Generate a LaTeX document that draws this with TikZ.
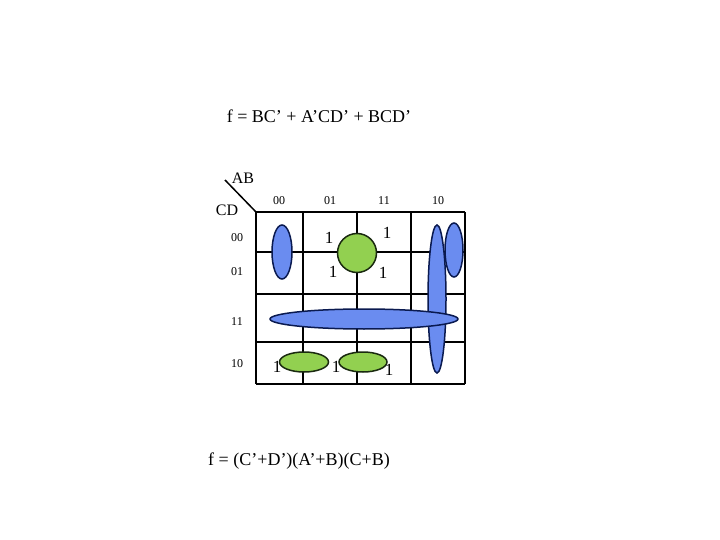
\documentclass[tikz,border=0pt]{standalone}
\usepackage{fontspec}
\setmainfont{Liberation Serif}
\definecolor{bluefill}{HTML}{6A8CF0}
\definecolor{blueedge}{HTML}{0A1A50}
\definecolor{greenfill}{HTML}{92D050}
\definecolor{greenedge}{HTML}{1A2A10}
\begin{document}
\begin{tikzpicture}[x=1pt,y=-1pt,
  gridline/.style={line width=2pt,black},
  bluegrp/.style={fill=bluefill,draw=blueedge,line width=1.5pt},
  greengrp/.style={fill=greenfill,draw=greenedge,line width=1.5pt},
  formula/.style={font=\fontsize{18}{21}\selectfont,inner sep=0pt},
  axislbl/.style={font=\fontsize{16}{18}\selectfont,inner sep=0pt},
  codelbl/.style={font=\fontsize{12}{14}\selectfont,inner sep=0pt},
  onelbl/.style={font=\fontsize{17}{19}\selectfont,inner sep=0pt}]
\useasboundingbox (0,0) rectangle (720,540);
% formulas
\node[formula] (top) at (319,116) {f = BC’ + A’CD’ + BCD’};
\node[formula] (bot) at (299,461) {f = (C’+D’)(A’+B)(C+B)};
% grid
\foreach \x in {256,303,357,411,465} \draw[gridline] (\x,212) -- (\x,384);
\foreach \y in {212,252,294,342,384} \draw[gridline] (256,\y) -- (465,\y);
\draw[line width=1.5pt] (225,180) -- (256,212);
\node[axislbl] (ab) at (243,178) {AB};
\node[axislbl] (cd) at (227,210) {CD};
% column labels
\node[codelbl] (c00) at (279,201) {00};
\node[codelbl] (c01) at (330,201) {01};
\node[codelbl] (c11) at (384,201) {11};
\node[codelbl] (c10) at (438,201) {10};
% row labels
\node[codelbl] (r00) at (237,238) {00};
\node[codelbl] (r01) at (237,272) {01};
\node[codelbl] (r11) at (237,322) {11};
\node[codelbl] (r10) at (237,364) {10};
% blue groups
\draw[bluegrp] (282,252) ellipse [x radius=10, y radius=27];
\draw[bluegrp] (437,299) ellipse [x radius=9, y radius=74];
\draw[bluegrp] (454,250) ellipse [x radius=9, y radius=27];
\draw[bluegrp] (364,319) ellipse [x radius=94, y radius=10];
% green groups
\draw[greengrp] (357,253) circle [radius=19.5];
\draw[greengrp] (304,362) ellipse [x radius=24.5, y radius=10];
\draw[greengrp] (363,362) ellipse [x radius=24, y radius=10];
% ones
\node[onelbl] (o1) at (329,238) {1};
\node[onelbl] (o2) at (387,233) {1};
\node[onelbl] (o3) at (333,272) {1};
\node[onelbl] (o4) at (383,273) {1};
\node[onelbl] (o5) at (277,367) {1};
\node[onelbl] (o6) at (336,367) {1};
\node[onelbl] (o7) at (389,370) {1};
\end{tikzpicture}
\end{document}
